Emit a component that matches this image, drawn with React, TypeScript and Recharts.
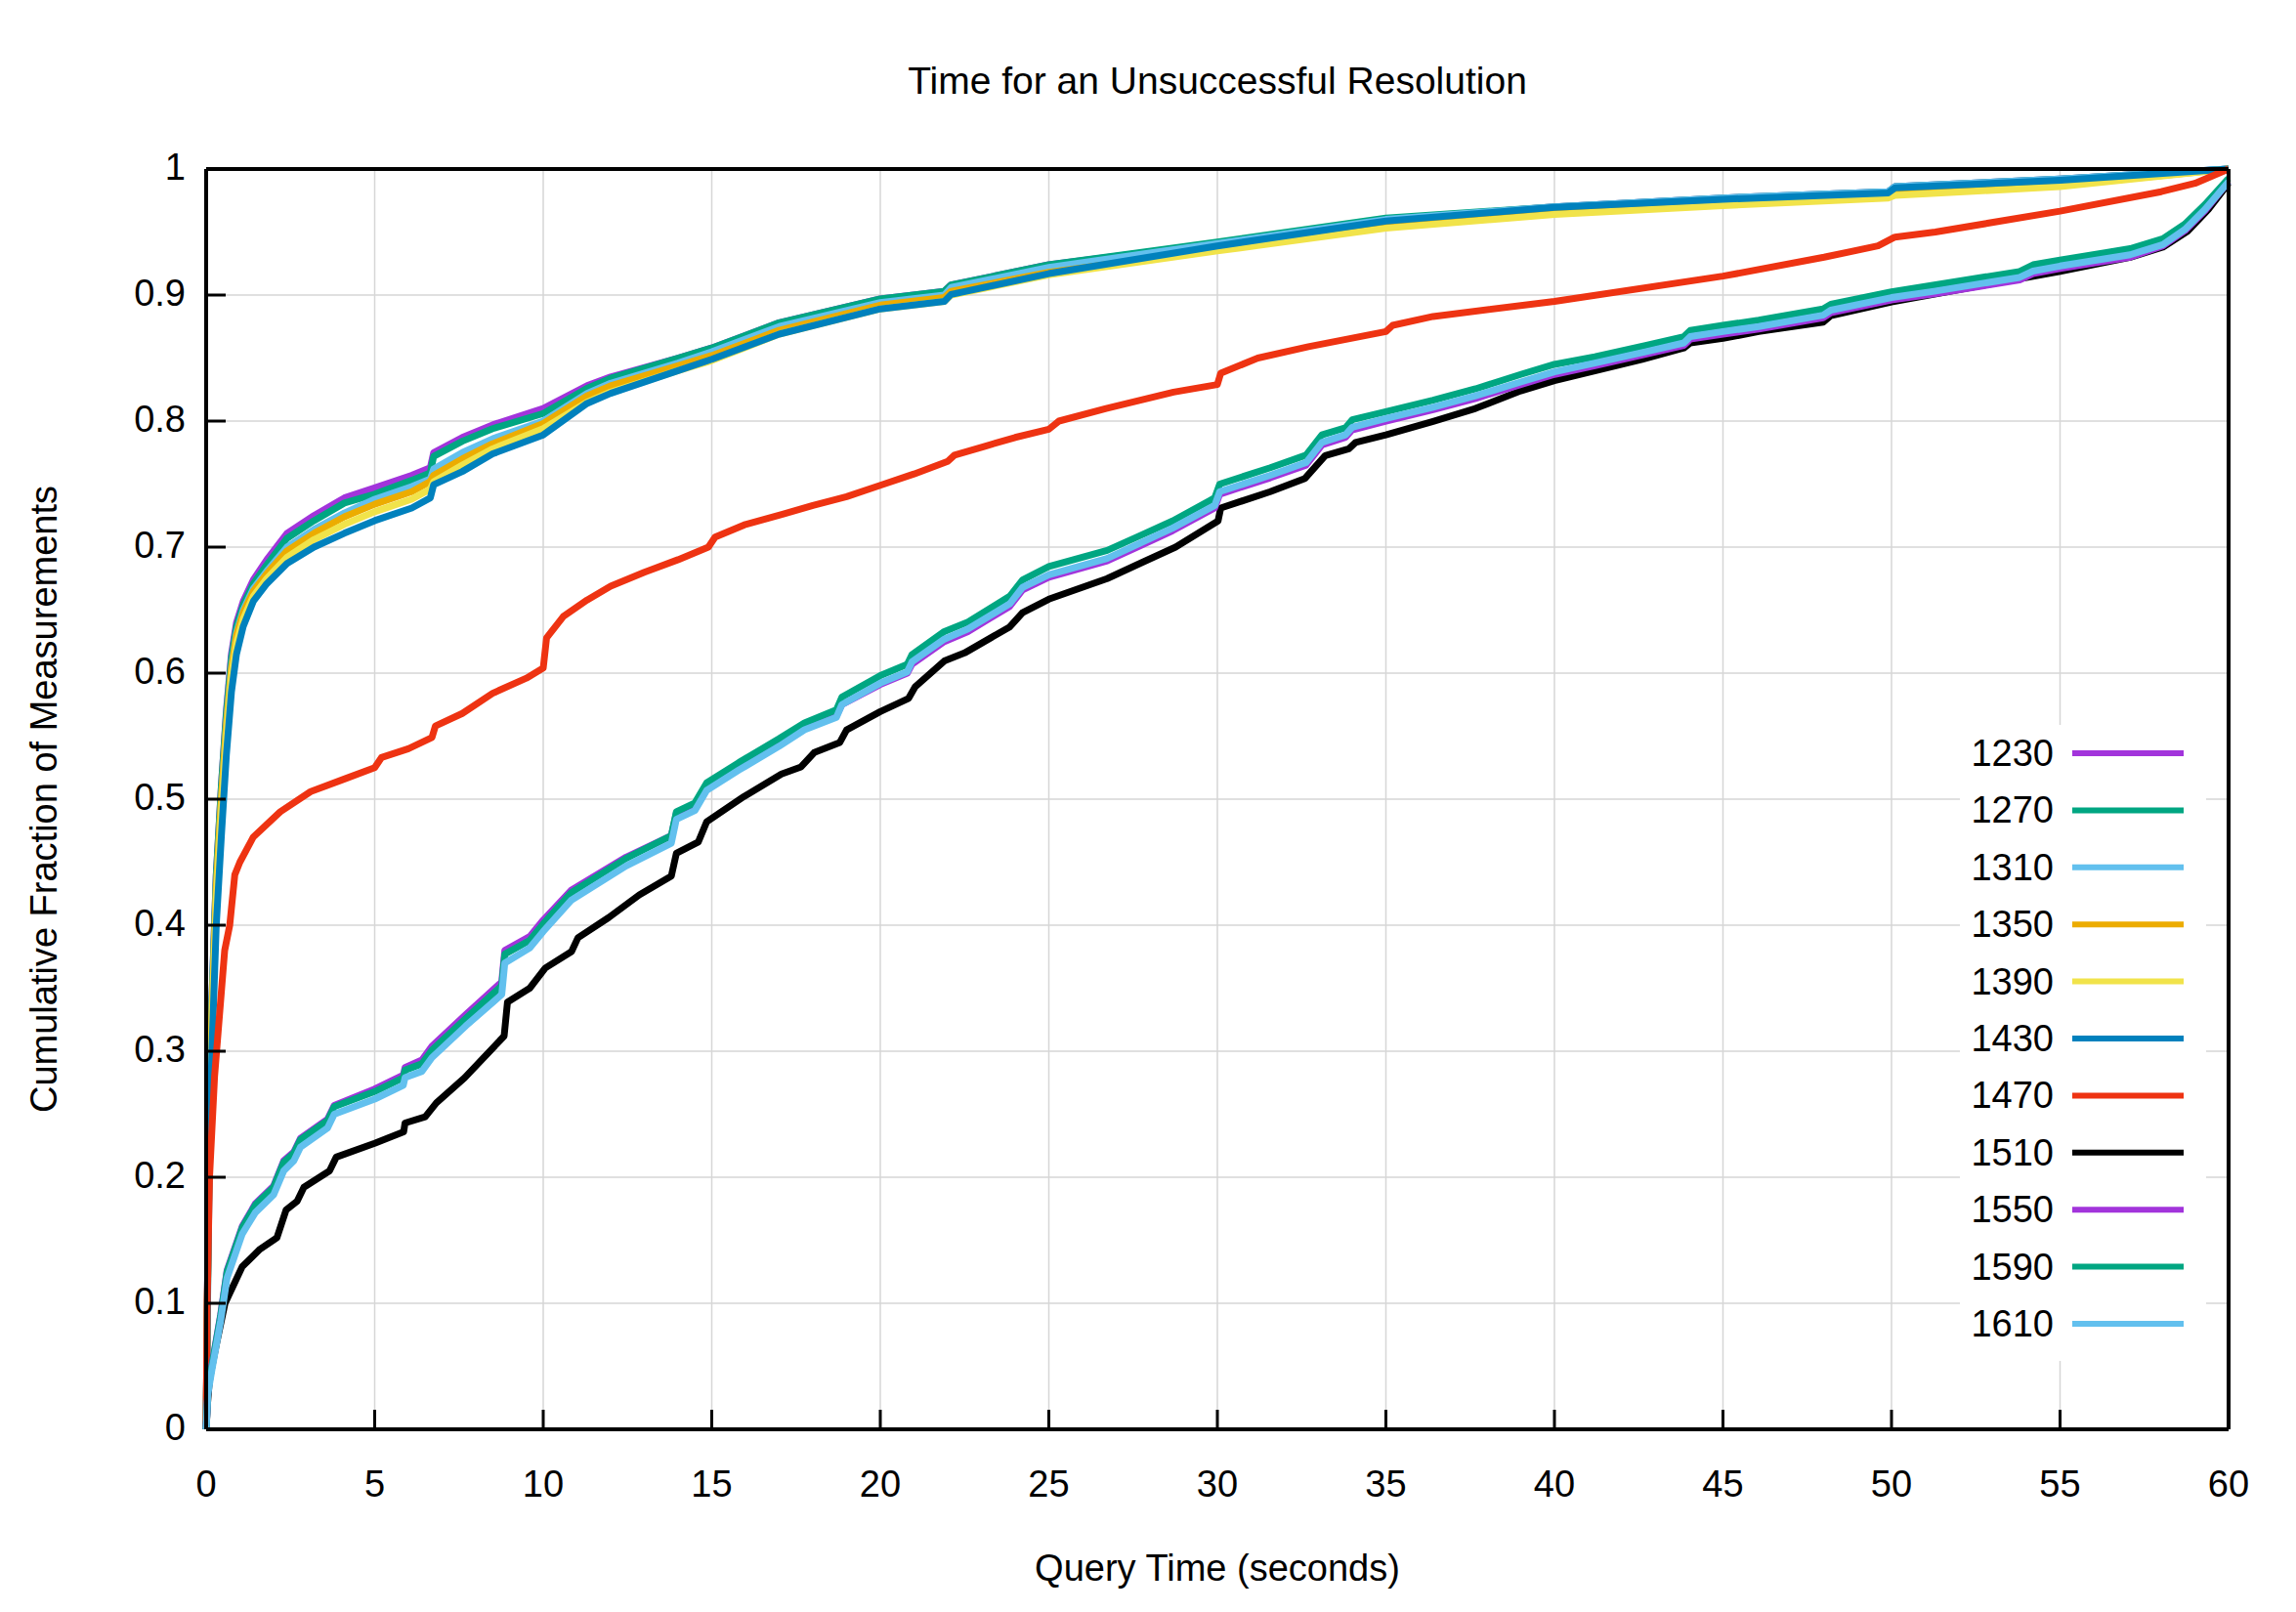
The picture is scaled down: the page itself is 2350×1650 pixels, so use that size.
import { LineChart, Line, XAxis, YAxis, CartesianGrid, Legend } from 'recharts';

// x positions (seconds) shared by the fast group of resolvers
const GA_T = [0, 0.05, 0.1, 0.17, 0.3, 0.45, 0.6, 0.75, 0.9, 1.1, 1.4, 1.8, 2.4, 3.2, 4.1, 5, 6.1, 6.65, 6.75, 7.6,
    8.5, 10, 11.3, 12, 14, 15, 17, 20, 21.9, 22.1, 25, 30, 35, 40, 45, 49.9, 50.1, 55, 60];

const V1230 = [0, 0.14, 0.25, 0.34, 0.44, 0.51, 0.57, 0.615, 0.64, 0.657, 0.674, 0.69, 0.711, 0.725, 0.739, 0.747, 0.757, 0.763, 0.775, 0.787,
    0.797, 0.81, 0.828, 0.835, 0.85, 0.858, 0.878, 0.897, 0.903, 0.908, 0.924, 0.941, 0.96, 0.97, 0.977, 0.982, 0.986, 0.992, 1.0];
const V1270 = [0, 0.14, 0.25, 0.34, 0.44, 0.51, 0.568, 0.612, 0.637, 0.654, 0.671, 0.686, 0.707, 0.721, 0.735, 0.742, 0.753, 0.759, 0.772, 0.784,
    0.794, 0.806, 0.826, 0.834, 0.85, 0.858, 0.878, 0.897, 0.903, 0.908, 0.924, 0.942, 0.961, 0.97, 0.977, 0.982, 0.986, 0.992, 1.0];
const V1310 = [0, 0.13, 0.24, 0.33, 0.43, 0.5, 0.56, 0.605, 0.632, 0.65, 0.667, 0.681, 0.7, 0.714, 0.727, 0.738, 0.748, 0.754, 0.762, 0.775,
    0.786, 0.8, 0.822, 0.83, 0.846, 0.855, 0.875, 0.894, 0.9, 0.906, 0.922, 0.941, 0.96, 0.97, 0.977, 0.982, 0.986, 0.992, 1.0];
const V1350 = [0, 0.13, 0.24, 0.33, 0.43, 0.5, 0.558, 0.603, 0.63, 0.648, 0.665, 0.679, 0.697, 0.711, 0.724, 0.734, 0.744, 0.752, 0.757, 0.77,
    0.782, 0.798, 0.82, 0.828, 0.844, 0.852, 0.872, 0.892, 0.898, 0.903, 0.918, 0.936, 0.954, 0.965, 0.972, 0.978, 0.98, 0.987, 1.0];
const V1390 = [0, 0.13, 0.235, 0.32, 0.42, 0.49, 0.55, 0.597, 0.624, 0.643, 0.661, 0.675, 0.692, 0.706, 0.718, 0.728, 0.738, 0.746, 0.752, 0.765,
    0.778, 0.794, 0.815, 0.823, 0.84, 0.848, 0.869, 0.889, 0.895, 0.9, 0.916, 0.935, 0.953, 0.964, 0.971, 0.977, 0.979, 0.986, 1.0];
const V1430 = [0, 0.12, 0.22, 0.3, 0.4, 0.47, 0.535, 0.585, 0.615, 0.637, 0.657, 0.671, 0.687, 0.7, 0.711, 0.721, 0.731, 0.739, 0.7495, 0.76,
    0.774, 0.789, 0.814, 0.822, 0.84, 0.849, 0.869, 0.889, 0.895, 0.9005, 0.917, 0.939, 0.9587, 0.9695, 0.976, 0.981, 0.985, 0.991, 1.0];

// [seconds, fraction]
const P1470 = [[0, 0], [0.03, 0.1], [0.1, 0.2], [0.25, 0.28], [0.4, 0.33], [0.55, 0.38], [0.7, 0.4], [0.85, 0.44], [1.0, 0.45], [1.4, 0.47],
    [2.2, 0.49], [3.1, 0.506], [4.1, 0.516], [5.0, 0.525], [5.2, 0.533], [6.0, 0.54], [6.7, 0.549], [6.8, 0.558], [7.6, 0.568], [8.5, 0.584],
    [9.5, 0.596], [10.0, 0.604], [10.1, 0.628], [10.6, 0.645], [11.3, 0.658], [12, 0.669], [13, 0.68], [14, 0.69], [14.9, 0.7], [15.1, 0.708],
    [16, 0.718], [17.1, 0.726], [18, 0.733], [19, 0.74], [20, 0.749], [21, 0.758], [22, 0.768], [22.2, 0.773], [23.1, 0.78], [24, 0.787],
    [25, 0.7935], [25.3, 0.8], [26.7, 0.81], [28.7, 0.823], [30, 0.829], [30.1, 0.838], [31.2, 0.85], [32.7, 0.859], [35, 0.871], [35.2, 0.876],
    [36.4, 0.883], [40, 0.895], [45, 0.915], [48, 0.93], [49.6, 0.939], [50.1, 0.946], [51.3, 0.95], [55, 0.9666], [58, 0.982], [59, 0.9886], [60, 1.0]];

const P1510 = [[0, 0], [0.04, 0.02], [0.1, 0.04], [0.3, 0.067], [0.56, 0.1], [1.07, 0.129], [1.6, 0.143], [2.1, 0.152], [2.37, 0.174], [2.7, 0.181],
    [2.9, 0.192], [3.66, 0.205], [3.86, 0.216], [5, 0.227], [5.86, 0.236], [5.9, 0.243], [6.5, 0.248], [6.83, 0.259], [7.67, 0.279], [8.84, 0.312],
    [8.94, 0.339], [9.6, 0.35], [10.06, 0.366], [10.84, 0.379], [11.03, 0.39], [11.94, 0.406], [12.85, 0.424], [13.8, 0.439], [13.95, 0.457], [14.6, 0.466],
    [14.85, 0.482], [15.95, 0.502], [17.07, 0.52], [17.65, 0.5256], [18.04, 0.537], [18.8, 0.545], [19.0, 0.555], [20, 0.5695], [20.84, 0.58], [21.03, 0.589],
    [21.9, 0.6096], [22.5, 0.616], [23.84, 0.6367], [24.22, 0.648], [25, 0.6587], [26.73, 0.675], [27.7, 0.687], [28.76, 0.7], [30.02, 0.7207], [30.1, 0.731],
    [31.57, 0.744], [32.6, 0.7545], [33.2, 0.7726], [33.9, 0.778], [34.1, 0.783], [35, 0.789], [36.4, 0.7997], [37.66, 0.81], [39, 0.824], [40, 0.832],
    [42.6, 0.849], [43.84, 0.858], [44.03, 0.862], [45, 0.8656], [46.06, 0.871], [47.97, 0.8785], [48.2, 0.8837], [50, 0.8946], [55, 0.9187], [57.08, 0.93],
    [58.05, 0.938], [58.8, 0.951], [59.4, 0.968], [60, 0.9886]];

// x positions shared by the slow group
const GB_T = [0, 0.05, 0.17, 0.43, 0.62, 1.07, 1.46, 2.0, 2.3, 2.6, 2.8, 3.6, 3.8, 5, 5.85, 5.9, 6.4, 6.7, 7.7, 8.77,
    8.86, 9.6, 10, 10.84, 12.46, 13.8, 13.95, 14.5, 14.85, 15.8, 17, 17.75, 18.7, 18.86, 20, 20.8, 20.94, 21.9, 22.6, 23.84,
    24.22, 25, 26.73, 27.7, 28.67, 29.92, 30.07, 31.57, 32.63, 33.1, 33.8, 34, 35, 36.4, 37.66, 39, 40, 41.2, 42.7, 43.84,
    44.03, 45, 46.06, 47.97, 48.2, 50, 51.27, 53.8, 54.2, 55, 57.08, 58.05, 58.7, 59.3, 60];

const V1550 = [0, 0.03, 0.051, 0.091, 0.126, 0.161, 0.179, 0.193, 0.213, 0.22, 0.231, 0.246, 0.257, 0.27, 0.281, 0.287, 0.293, 0.304, 0.329, 0.355,
    0.38, 0.391, 0.404, 0.428, 0.454, 0.471, 0.489, 0.495, 0.511, 0.526, 0.544, 0.556, 0.566, 0.575, 0.591, 0.6, 0.607, 0.625, 0.633, 0.653,
    0.666, 0.676, 0.689, 0.701, 0.713, 0.731, 0.742, 0.755, 0.765, 0.781, 0.787, 0.793, 0.8, 0.809, 0.818, 0.829, 0.837, 0.844, 0.853, 0.86,
    0.865, 0.869, 0.873, 0.882, 0.886, 0.896, 0.901, 0.912, 0.917, 0.921, 0.93, 0.939, 0.951, 0.967, 0.99];
const V1590 = [0, 0.03, 0.05, 0.09, 0.125, 0.16, 0.178, 0.192, 0.212, 0.219, 0.23, 0.245, 0.256, 0.268, 0.279, 0.285, 0.29, 0.301, 0.326, 0.352,
    0.377, 0.388, 0.401, 0.426, 0.453, 0.471, 0.49, 0.497, 0.513, 0.529, 0.548, 0.5605, 0.571, 0.581, 0.598, 0.607, 0.6147, 0.633, 0.6406, 0.661,
    0.674, 0.6845, 0.6974, 0.709, 0.7207, 0.739, 0.75, 0.763, 0.773, 0.789, 0.7946, 0.801, 0.8075, 0.8165, 0.8256, 0.837, 0.845, 0.851, 0.86, 0.867,
    0.872, 0.876, 0.88, 0.889, 0.8927, 0.9026, 0.908, 0.9187, 0.924, 0.9277, 0.9368, 0.9446, 0.9562, 0.9718, 0.9925];
const V1610 = [0, 0.028, 0.047, 0.086, 0.12, 0.155, 0.172, 0.186, 0.205, 0.213, 0.224, 0.239, 0.25, 0.262, 0.273, 0.279, 0.284, 0.295, 0.32, 0.345,
    0.37, 0.382, 0.395, 0.42, 0.447, 0.465, 0.484, 0.491, 0.507, 0.523, 0.542, 0.555, 0.565, 0.575, 0.592, 0.601, 0.609, 0.627, 0.635, 0.655,
    0.668, 0.678, 0.691, 0.703, 0.715, 0.733, 0.744, 0.757, 0.767, 0.783, 0.789, 0.795, 0.802, 0.811, 0.82, 0.831, 0.839, 0.846, 0.855, 0.862,
    0.867, 0.871, 0.875, 0.884, 0.888, 0.898, 0.903, 0.914, 0.919, 0.923, 0.932, 0.94, 0.952, 0.968, 0.99];

const X_TICKS = [0, 5, 10, 15, 20, 25, 30, 35, 40, 45, 50, 55, 60];
const Y_TICKS = [0, 0.1, 0.2, 0.3, 0.4, 0.5, 0.6, 0.7, 0.8, 0.9, 1];

const NAMES = ['1230', '1270', '1310', '1350', '1390', '1430', '1470', '1510', '1550', '1590', '1610'];
const COLORS = ['#a234db', '#00a682', '#62c0ee', '#ecac00', '#f1e34a', '#0081bd', '#ee3312', '#000000', '#a234db', '#00a682', '#62c0ee'];

const zip = (t: number[], v: number[]) => t.map((x, i) => ({ t: x, f: v[i] }));
const pairs = (p: number[][]) => p.map(([t, f]) => ({ t, f }));

const SERIES_DATA = [
    zip(GA_T, V1230), zip(GA_T, V1270), zip(GA_T, V1310), zip(GA_T, V1350), zip(GA_T, V1390), zip(GA_T, V1430),
    pairs(P1470), pairs(P1510),
    zip(GB_T, V1550), zip(GB_T, V1590), zip(GB_T, V1610),
];

const FONT = '"Liberation Sans", Arial, Helvetica, sans-serif';
const FS = 38;
const TICK_LEN = 20;

function BottomTick({ x, y, payload }: any) {
    return (
        <g>
            <line x1={x} x2={x} y1={y} y2={y - TICK_LEN} stroke="#000" strokeWidth={3} />
            <text x={x} y={y + 69} textAnchor="middle" fontSize={FS} fontFamily={FONT} fill="#000">{payload.value}</text>
        </g>
    );
}

function TopTick({ x, y }: any) {
    return <line x1={x} x2={x} y1={y} y2={y + TICK_LEN} stroke="#000" strokeWidth={3} />;
}

function LeftTick({ x, y, payload }: any) {
    return (
        <g>
            <line x1={x} x2={x + TICK_LEN} y1={y} y2={y} stroke="#000" strokeWidth={3} />
            <text x={x - 21} y={y + 11} textAnchor="end" fontSize={FS} fontFamily={FONT} fill="#000">{payload.value}</text>
        </g>
    );
}

function RightTick({ x, y }: any) {
    return <line x1={x} x2={x - TICK_LEN} y1={y} y2={y} stroke="#000" strokeWidth={3} />;
}

function KeyBox({ payload }: any) {
    const items = payload || [];
    return (
        <svg width={252} height={651} style={{ display: 'block', background: '#fff' }}>
            {items.map((item: any, i: number) => {
                const cy = 29 + i * 58.4;
                return (
                    <g key={item.value}>
                        <text x={96} y={cy + 13} textAnchor="end" fontSize={FS} fontFamily={FONT} fill="#000">{item.value}</text>
                        <line x1={115} x2={229} y1={cy} y2={cy} stroke={item.color} strokeWidth={6} />
                    </g>
                );
            })}
        </svg>
    );
}

const axisStroke = { stroke: '#000', strokeWidth: 4 };

export default function App() {
    return (
        <div style={{ position: 'absolute', left: 0, top: 0, width: 2350, height: 1650, background: '#fff' }}>
            <LineChart width={2350} height={1650} margin={{ top: 172, right: 68, bottom: 186, left: 210 }}>
                <CartesianGrid xAxisId="b" yAxisId="l" stroke="#d6d6d6" strokeWidth={1.5} />
                <XAxis
                    xAxisId="b" dataKey="t" type="number" domain={[0, 60]} ticks={X_TICKS} height={1}
                    tickSize={0} tickMargin={0} tickLine={false} axisLine={axisStroke} tick={<BottomTick />}
                    interval={0}
                    label={{ value: 'Query Time (seconds)', position: 'bottom', offset: 127, fontSize: FS, fontFamily: FONT, fill: '#000' }}
                />
                <XAxis
                    xAxisId="t" orientation="top" dataKey="t" type="number" domain={[0, 60]} ticks={X_TICKS} height={1}
                    tickSize={0} tickMargin={0} tickLine={false} axisLine={axisStroke} tick={<TopTick />}
                    interval={0}
                    label={{ value: 'Time for an Unsuccessful Resolution', position: 'top', offset: 76, fontSize: 39, fontFamily: FONT, fill: '#000' }}
                />
                <YAxis
                    yAxisId="l" type="number" domain={[0, 1]} ticks={Y_TICKS} width={1}
                    tickSize={0} tickMargin={0} tickLine={false} axisLine={axisStroke} tick={<LeftTick />}
                    interval={0}
                    label={{ value: 'Cumulative Fraction of Measurements', angle: -90, position: 'left', offset: 165, fontSize: FS, fontFamily: FONT, fill: '#000', style: { textAnchor: 'middle' } }}
                />
                <YAxis
                    yAxisId="r" orientation="right" type="number" domain={[0, 1]} ticks={Y_TICKS} width={1}
                    tickSize={0} tickMargin={0} tickLine={false} axisLine={axisStroke} tick={<RightTick />}
                    interval={0}
                />
                <Legend
                    layout="horizontal" verticalAlign="middle" align="center"
                    content={<KeyBox />}
                    wrapperStyle={{ left: 2006, top: 742, width: 252, height: 651 }}
                />
                {NAMES.map((name, i) => (
                    <Line
                        key={name}
                        xAxisId="b"
                        yAxisId="l"
                        data={SERIES_DATA[i]}
                        dataKey="f"
                        name={name}
                        type="linear"
                        stroke={COLORS[i]}
                        strokeWidth={7}
                        strokeLinejoin="round"
                        dot={false}
                        activeDot={false}
                        isAnimationActive={false}
                    />
                ))}
            </LineChart>
        </div>
    );
}
